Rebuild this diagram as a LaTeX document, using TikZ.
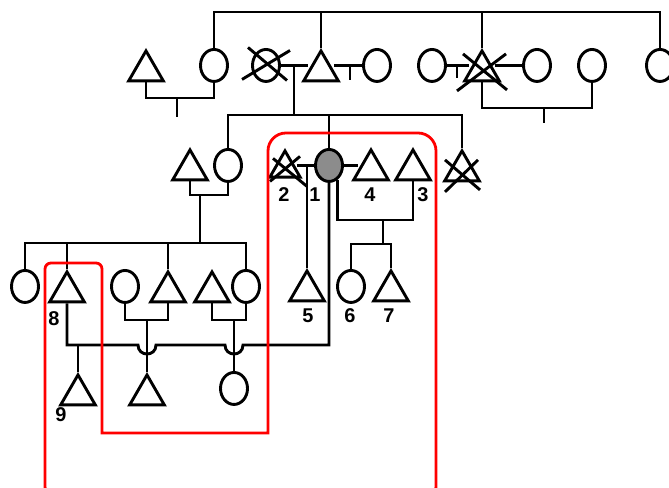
\documentclass[tikz,border=0pt]{standalone}
\usepackage{fontspec}
\setmainfont{Liberation Sans}
\usetikzlibrary{shapes.geometric}

\definecolor{probandgray}{RGB}{140,140,140}

\tikzset{
  male/.style={regular polygon,regular polygon sides=3,draw=black,minimum size=40bp,inner sep=0pt,anchor=north},
  female/.style={ellipse,draw=black,minimum width=27bp,minimum height=32bp,inner sep=0pt,anchor=north},
  proband/.style={female,fill=probandgray},
  num/.style={font=\bfseries\fontsize{20}{20}\selectfont,inner sep=0pt},
  ring/.style={draw=red,line width=2.8bp}
}

\begin{document}
\begin{tikzpicture}[x=1bp,y=-1bp,line width=2.9bp]
            \useasboundingbox (0,0) rectangle (669,488);
            % generation I
            \node[male] (tA) at (146,48) {};
            \node[female] (cA) at (214,48) {};
            \node[female] (xB) at (266,48) {};
            \node[male] (tB) at (321,48) {};
            \node[female] (cB) at (377,48) {};
            \node[female] (cC) at (432,48) {};
            \node[male] (xC) at (482,48) {};
            \node[female] (cD) at (537,48) {};
            \node[female] (cE) at (592,48) {};
            \node[female] (cF) at (660,48) {};
            % generation II
            \node[male] (tG) at (190,147) {};
            \node[female] (cG) at (228,148) {};
            \node[male,minimum size=35bp] (x2) at (285,148) {};
            \node[proband] (P) at (329,148) {};
            \node[male] (t4) at (371,147) {};
            \node[male] (t3) at (413,147) {};
            \node[male] (xH) at (462,148) {};
            % generation III
            \node[female] (cI) at (25,269) {};
            \node[male] (t8) at (67,269) {};
            \node[female] (cJ) at (125,269) {};
            \node[male] (tK) at (168,269) {};
            \node[male] (tL) at (212,269) {};
            \node[female] (cM) at (246,269) {};
            \node[male] (t5) at (307,268) {};
            \node[female] (c6) at (351,269) {};
            \node[male] (t7) at (391,268) {};
            % generation IV
            \node[male] (t9) at (78,372) {};
            \node[male] (tN) at (147,372) {};
            \node[female] (cO) at (234,371) {};
            % numbers
            \node[num] (l1) at (315,195) {1};
            \node[num] (l2) at (284,195) {2};
            \node[num] (l3) at (423,195) {3};
            \node[num] (l4) at (370,195) {4};
            \node[num] (l5) at (308,316) {5};
            \node[num] (l6) at (350,316) {6};
            \node[num] (l7) at (389,316) {7};
            \node[num] (l8) at (54,319) {8};
            \node[num] (l9) at (61,415) {9};
            % deceased
            \draw ([shift={(-18,-18)}]xB.center) -- ([shift={(21,15)}]xB.center);
            \draw ([shift={(-24,14)}]xB.center) -- ([shift={(24,-15)}]xB.center);
            \draw ([shift={(-25,20)}]xC.center) -- ([shift={(24,-17)}]xC.center);
            \draw ([shift={(-19,-17)}]xC.center) -- ([shift={(25,19)}]xC.center);
            \draw ([shift={(-15,13)}]x2.center) -- ([shift={(15,-12)}]x2.center);
            \draw ([shift={(-12,-10)}]x2.center) -- ([shift={(22,18)}]x2.center);
            \draw ([shift={(-17,21)}]xH.center) -- ([shift={(16,-11)}]xH.center);
            \draw ([shift={(-17,-11)}]xH.center) -- ([shift={(18,19)}]xH.center);
            % lines of generation I
            \coordinate (topbar) at (0,12);
            \draw (cA.north) -- (cA.north |- topbar) -| (cF.north);
            \draw (tB.north) -- (tB.north |- topbar);
            \draw (xC.north) -- (xC.north |- topbar);
            \coordinate (kA) at (177,117);
            \draw (tA.south) |- (kA |- 0,98) -| (cA.south);
            \draw (kA) -- (kA |- 0,98);
            \coordinate (kB0) at (294,115);
            \draw (xB.east) -- (xB.east -| tB.west);
            \draw (kB0) -- (kB0 |- xB.east);
            \coordinate (kB) at (350,80);
            \draw (cB.west -| tB.east) -- (cB.west);
            \draw (kB) -- (kB |- cB.west);
            \coordinate (kC) at (457,78);
            \draw (cC.east) -- (cC.east -| xC.west);
            \draw (kC) -- (kC |- cC.east);
            \draw (cD.west -| xC.east) -- (cD.west);
            \coordinate (kE) at (544,123);
            \draw (xC.south) |- (kE |- 0,108) -| (cE.south);
            \draw (kE) -- (kE |- 0,108);
            % lines of generation II
            \draw (cG.north) |- (kB0) -| (xH.north);
            \draw (P.north) -- (P.north |- kB0);
            \coordinate (kG) at (200,243);
            \draw (tG.south) |- (kG |- 0,195) -| (cG.south);
            \draw (kG) -- (kG |- 0,195);
            \draw (x2.east |- P.west) -- (P.west);
            \draw (t5.north) -- (t5.north |- P.west);
            \draw (P.east) -- (P.east -| t4.west);
            \coordinate (k3) at (383,220);
            \coordinate (k67) at (383,244);
            \draw (P.-58) |- (k3) -| (t3.south);
            \draw (k3) -- (k67);
            \draw (P.south) |- (243,345) .. controls (243,357) and (225,357) .. (225,345) -- (156,345) .. controls (156,357) and (138,357) .. (138,345) -| (t8.south);
            % lines of generation III
            \draw (cI.north) |- (kG) -| (cM.north);
            \draw (t8.north) -- (t8.north |- kG);
            \draw (tK.north) -- (tK.north |- kG);
            \draw (c6.north) |- (k67) -| (t7.north);
            \coordinate (kJ) at (147,320);
            \draw (cJ.south) |- (kJ) -| (tK.south);
            \draw (kJ) -- (tN.north);
            \coordinate (kL) at (234,320);
            \draw (tL.south) |- (kL) -| (cM.south);
            \draw (kL) -- (cO.north);
            \draw (t9.north) -- (t9.north |- 0,345);
            % red outline
            \draw[ring] (45,493) [rounded corners=6] -- (45,263) -- (102,263) [sharp corners] -- (102,433) -- (268,433) [rounded corners=18] -- (268,133) -- (436,133) [rounded corners=6] -- (436,493) -- cycle;
        \end{tikzpicture}
\end{document}
